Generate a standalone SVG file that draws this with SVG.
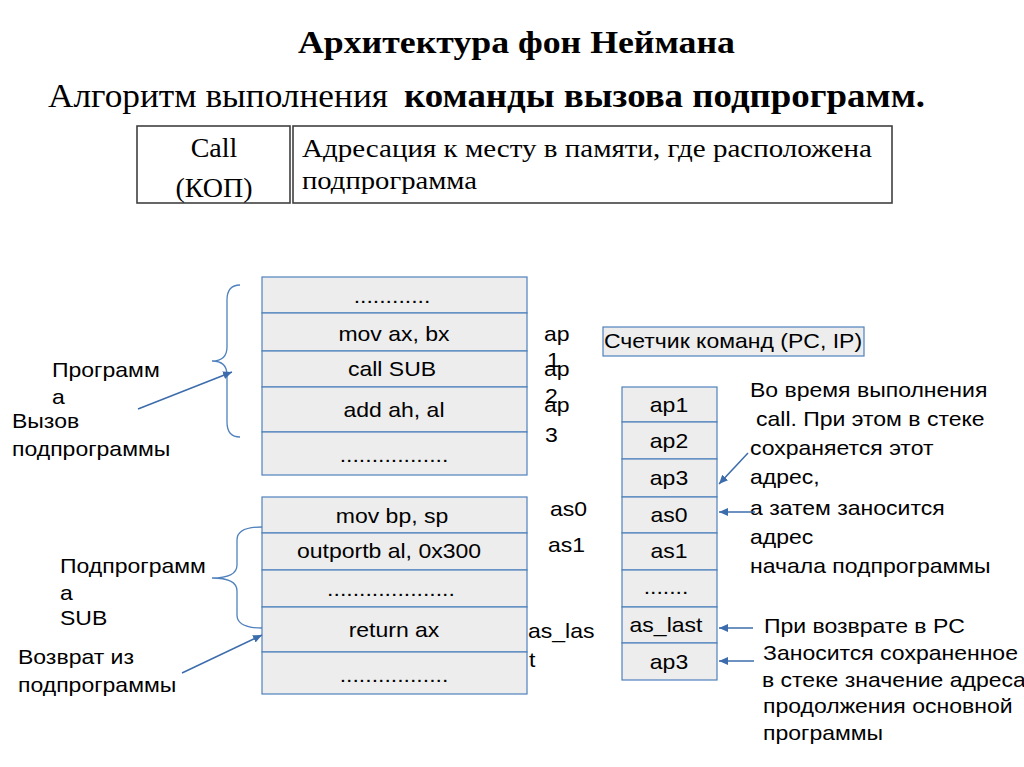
<svg xmlns="http://www.w3.org/2000/svg" width="1024" height="767" viewBox="0 0 1024 767">
<style>
.bg{fill:#ffffff}
.serif{font-family:"Liberation Serif","Times New Roman",serif;fill:#000}
.sans{font-family:"Liberation Sans",Arial,sans-serif;font-size:20px;fill:#000}
.c{text-anchor:middle}
.cell{fill:#ededed;stroke:#4f81bd;stroke-width:1.2}
.box{fill:#ffffff;stroke:#404040;stroke-width:1.6}
.brace{fill:none;stroke:#4f81bd;stroke-width:1.3}
.arr{fill:none;stroke:#3c6cab;stroke-width:1.5;marker-end:url(#ah)}
</style>
<defs>
<marker id="ah" markerUnits="userSpaceOnUse" markerWidth="10" markerHeight="10" refX="9" refY="4" orient="auto">
<path d="M0,0 L9,4 L0,8 z" fill="#3c6cab"/>
</marker>
</defs>
<rect class="bg" x="0" y="0" width="1024" height="767"/>

<g id="title">
<text class="serif" x="298" y="53" font-size="31" font-weight="bold" textLength="437" lengthAdjust="spacingAndGlyphs">Архитектура фон Неймана</text>
<text class="serif" x="48" y="107" font-size="33" textLength="340" lengthAdjust="spacingAndGlyphs">Алгоритм выполнения</text>
<text class="serif" x="404" y="107" font-size="33" font-weight="bold" textLength="521" lengthAdjust="spacingAndGlyphs">команды  вызова подпрограмм.</text>
</g>

<g id="format">
<rect class="box" x="137" y="126" width="153" height="77"/>
<rect class="box" x="293" y="126" width="599" height="77"/>
<text class="serif c" x="214" y="157" font-size="28">Call</text>
<text class="serif c" x="214" y="197" font-size="28">(КОП)</text>
<text class="serif" x="302" y="157" font-size="25" textLength="570" lengthAdjust="spacingAndGlyphs">Адресация к месту в  памяти, где расположена</text>
<text class="serif" x="302" y="189" font-size="25" textLength="175" lengthAdjust="spacingAndGlyphs">подпрограмма</text>
</g>

<g id="program">
<rect class="cell" x="262" y="277" width="265" height="36"/>
<rect class="cell" x="262" y="313" width="265" height="38"/>
<rect class="cell" x="262" y="351" width="265" height="36"/>
<rect class="cell" x="262" y="387" width="265" height="45"/>
<rect class="cell" x="262" y="432" width="265" height="43"/>
<text class="sans c" transform="translate(392,303) scale(1.15,1)">............</text>
<text class="sans c" transform="translate(394,341) scale(1.15,1)">mov ax, bx</text>
<text class="sans c" transform="translate(392,376) scale(1.15,1)">call SUB</text>
<text class="sans c" transform="translate(394,417) scale(1.15,1)">add ah,  al</text>
<text class="sans c" transform="translate(394,462) scale(1.15,1)">.................</text>
</g>

<g id="program-addr">
<text class="sans" transform="translate(544,341) scale(1.15,1)">ap</text>
<text class="sans" transform="translate(547,367) scale(1.15,1)">1</text>
<text class="sans" transform="translate(544,376) scale(1.15,1)">ap</text>
<text class="sans" transform="translate(545,403) scale(1.15,1)">2</text>
<text class="sans" transform="translate(544,412) scale(1.15,1)">ap</text>
<text class="sans" transform="translate(545,442) scale(1.15,1)">3</text>
</g>

<g id="program-label">
<path class="brace" d="M240,285 Q227,285 227,300 L227,347 Q227,361 212,361 Q227,361 227,375 L227,422 Q227,437 240,437"/>
<text class="sans" transform="translate(52,377) scale(1.15,1)">Программ</text>
<text class="sans" transform="translate(52,404) scale(1.15,1)">а</text>
<text class="sans" transform="translate(12,428) scale(1.15,1)">Вызов</text>
<text class="sans" transform="translate(12,456) scale(1.15,1)">подпрограммы</text>
</g>

<g id="subroutine">
<rect class="cell" x="262" y="497" width="265" height="36"/>
<rect class="cell" x="262" y="533" width="265" height="37"/>
<rect class="cell" x="262" y="570" width="265" height="37"/>
<rect class="cell" x="262" y="607" width="265" height="45"/>
<rect class="cell" x="262" y="652" width="265" height="42"/>
<text class="sans c" transform="translate(392,523) scale(1.15,1)">mov bp, sp</text>
<text class="sans c" transform="translate(389,558) scale(1.15,1)">outportb al, 0x300</text>
<text class="sans c" transform="translate(391,596) scale(1.15,1)">....................</text>
<text class="sans c" transform="translate(394,637) scale(1.15,1)">return ax</text>
<text class="sans c" transform="translate(394,682) scale(1.15,1)">.................</text>
</g>

<g id="sub-addr">
<text class="sans" transform="translate(550,516) scale(1.15,1)">as0</text>
<text class="sans" transform="translate(548,552) scale(1.15,1)">as1</text>
<text class="sans" transform="translate(528,638) scale(1.15,1)">as_las</text>
<text class="sans" transform="translate(529,667) scale(1.15,1)">t</text>
</g>

<g id="sub-label">
<path class="brace" d="M262,527 Q237,527 237,540 L237,565 Q237,578 212,578 Q237,578 237,591 L237,615 Q237,628 262,628"/>
<text class="sans" transform="translate(60,573) scale(1.15,1)">Подпрограмм</text>
<text class="sans" transform="translate(60,600) scale(1.15,1)">а</text>
<text class="sans" transform="translate(60,625) scale(1.15,1)">SUB</text>
<text class="sans" transform="translate(18,664) scale(1.15,1)">Возврат из</text>
<text class="sans" transform="translate(18,692) scale(1.15,1)">подпрограммы</text>
</g>

<g id="pc">
<rect class="cell" x="603" y="327" width="261" height="29"/>
<text class="sans c" transform="translate(733,348) scale(1.15,1)">Счетчик команд (PC, IP)</text>
</g>

<g id="stack">
<rect class="cell" x="622" y="387" width="95" height="35"/>
<rect class="cell" x="622" y="422" width="95" height="37"/>
<rect class="cell" x="622" y="459" width="95" height="38"/>
<rect class="cell" x="622" y="497" width="95" height="36"/>
<rect class="cell" x="622" y="533" width="95" height="37"/>
<rect class="cell" x="622" y="570" width="95" height="37"/>
<rect class="cell" x="622" y="607" width="95" height="36"/>
<rect class="cell" x="622" y="643" width="95" height="37"/>
<text class="sans c" transform="translate(669,412) scale(1.15,1)">ap1</text>
<text class="sans c" transform="translate(669,448) scale(1.15,1)">ap2</text>
<text class="sans c" transform="translate(669,485) scale(1.15,1)">ap3</text>
<text class="sans c" transform="translate(669,522) scale(1.15,1)">as0</text>
<text class="sans c" transform="translate(669,558) scale(1.15,1)">as1</text>
<text class="sans c" transform="translate(666,594) scale(1.15,1)">.......</text>
<text class="sans c" transform="translate(666,632) scale(1.15,1)">as_last</text>
<text class="sans c" transform="translate(669,669) scale(1.15,1)">ap3</text>
</g>

<g id="notes">
<text class="sans" transform="translate(750,397) scale(1.15,1)">Во время выполнения</text>
<text class="sans" transform="translate(756,426) scale(1.15,1)">call. При этом в стеке</text>
<text class="sans" transform="translate(750,455) scale(1.15,1)">сохраняется этот</text>
<text class="sans" transform="translate(750,484) scale(1.15,1)">адрес,</text>
<text class="sans" transform="translate(750,515) scale(1.15,1)">а затем заносится</text>
<text class="sans" transform="translate(750,544) scale(1.15,1)">адрес</text>
<text class="sans" transform="translate(750,573) scale(1.15,1)">начала подпрограммы</text>
<text class="sans" transform="translate(764,633) scale(1.15,1)">При возврате в PC</text>
<text class="sans" transform="translate(763,660) scale(1.15,1)">Заносится сохраненное</text>
<text class="sans" transform="translate(762,687) scale(1.15,1)">в стеке значение адреса</text>
<text class="sans" transform="translate(763,713) scale(1.15,1)">продолжения основной</text>
<text class="sans" transform="translate(763,740) scale(1.15,1)">программы</text>
</g>

<g id="connectors">
<path class="arr" d="M138,409 L232,372"/>
<path class="arr" d="M182,673 L262,635"/>
<path class="arr" d="M748,453 L719,484"/>
<path class="arr" d="M755,512 L719,512"/>
<path class="arr" d="M753,628 L719,628"/>
<path class="arr" d="M754,661 L719,661"/>
</g>
</svg>
